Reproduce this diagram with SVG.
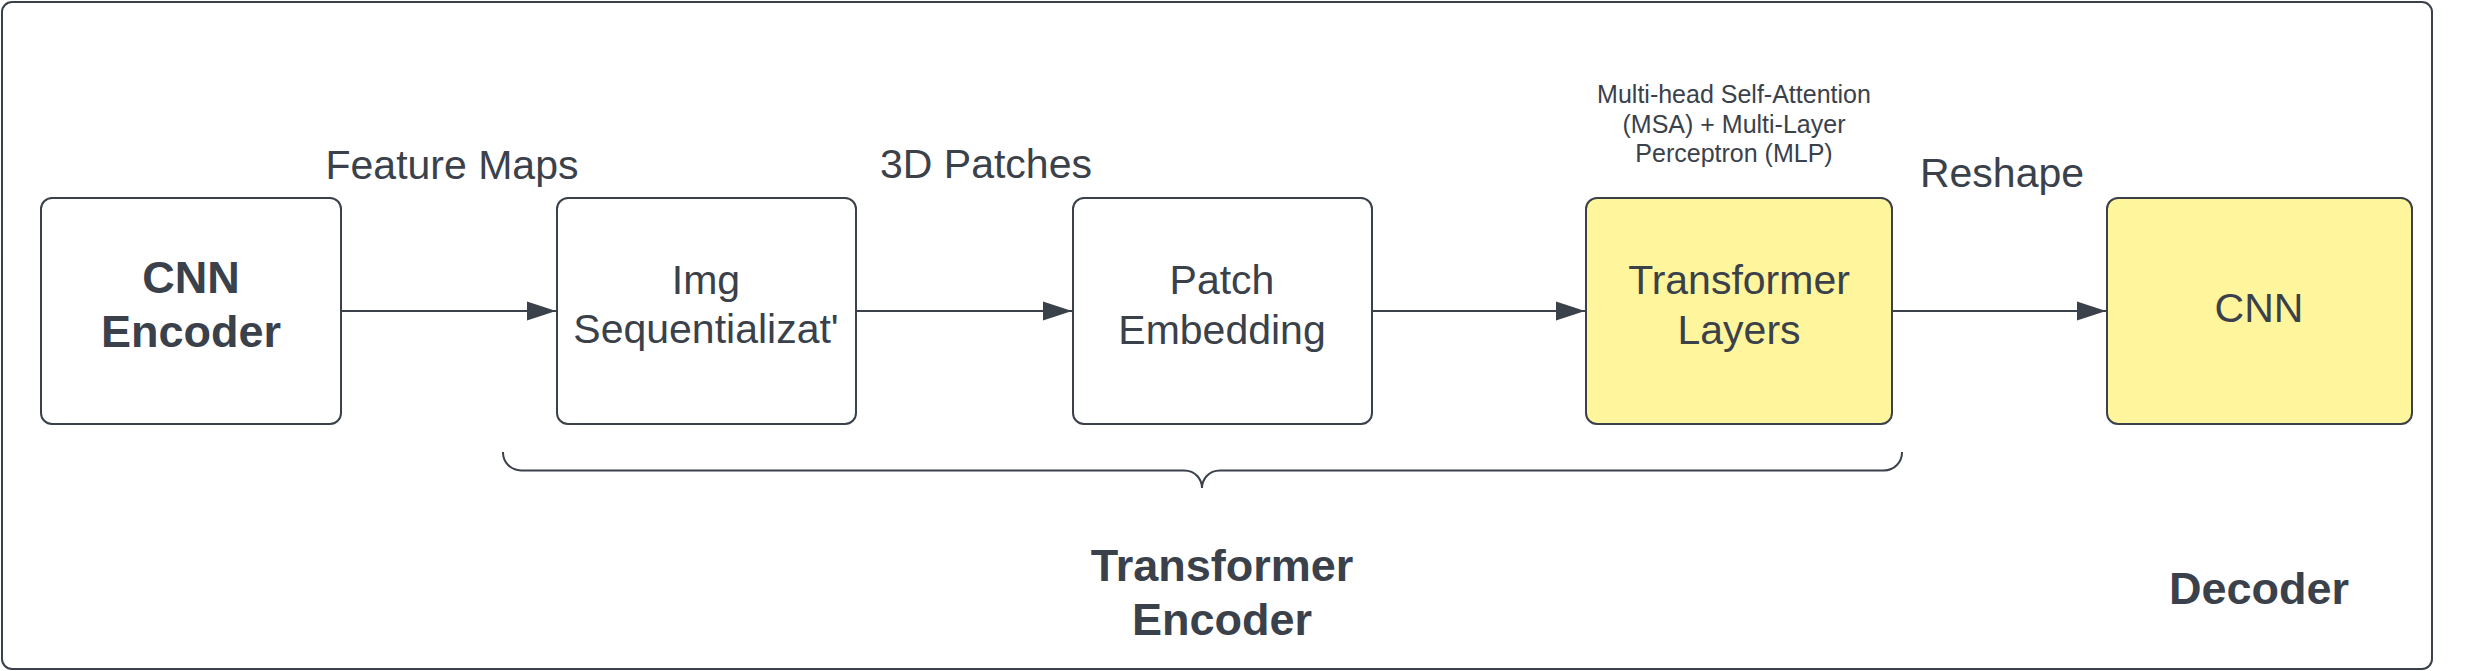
<svg xmlns="http://www.w3.org/2000/svg" width="2484" height="671" viewBox="0 0 2484 671">
<defs>
<style>
.box{fill:#ffffff;stroke:#3a414a;stroke-width:2}
.yel{fill:#fff59d;stroke:#3a414a;stroke-width:2}
.t{font-family:"Liberation Sans",Arial,sans-serif;fill:#3a414a;text-anchor:middle}
.lbl{font-size:41px}
.sm{font-size:25px}
.b{font-size:45px;font-weight:bold}
.ln{stroke:#3a414a;stroke-width:2;fill:none}
</style>
<marker id="arr" markerWidth="30" markerHeight="20" refX="29" refY="10" orient="auto" markerUnits="userSpaceOnUse">
<path d="M0,0.5 L29,10 L0,19.5 Z" fill="#3a414a"/>
</marker>
</defs>
<rect width="2484" height="671" fill="#ffffff"/>
<rect x="2" y="2" width="2430" height="667" rx="10" fill="none" stroke="#3a414a" stroke-width="2"/>

<g id="connectors">
<line class="ln" x1="342" y1="311" x2="556" y2="311" marker-end="url(#arr)"/>
<line class="ln" x1="857" y1="311" x2="1072" y2="311" marker-end="url(#arr)"/>
<line class="ln" x1="1373" y1="311" x2="1585" y2="311" marker-end="url(#arr)"/>
<line class="ln" x1="1893" y1="311" x2="2106" y2="311" marker-end="url(#arr)"/>
<text class="t lbl" x="452" y="179">Feature Maps</text>
<text class="t lbl" x="986" y="178">3D Patches</text>
<text class="t lbl" x="2002" y="187">Reshape</text>
</g>

<g id="cnn-encoder">
<rect class="box" x="41" y="198" width="300" height="226" rx="11"/>
<text class="t b" x="191" y="293">CNN</text>
<text class="t b" x="191" y="347">Encoder</text>
</g>

<g id="img-seq">
<rect class="box" x="557" y="198" width="299" height="226" rx="11"/>
<text class="t lbl" x="706" y="294">Img</text>
<text class="t lbl" x="706" y="343">Sequentializat'</text>
</g>

<g id="patch-embedding">
<rect class="box" x="1073" y="198" width="299" height="226" rx="11"/>
<text class="t lbl" x="1222" y="294">Patch</text>
<text class="t lbl" x="1222" y="344">Embedding</text>
</g>

<g id="transformer-layers">
<rect class="yel" x="1586" y="198" width="306" height="226" rx="11"/>
<text class="t lbl" x="1739" y="294">Transformer</text>
<text class="t lbl" x="1739" y="344">Layers</text>
<text class="t sm" x="1734" y="103">Multi-head Self-Attention</text>
<text class="t sm" x="1734" y="133">(MSA) + Multi-Layer</text>
<text class="t sm" x="1734" y="162">Perceptron (MLP)</text>
</g>

<g id="cnn-decoder">
<rect class="yel" x="2107" y="198" width="305" height="226" rx="11"/>
<text class="t lbl" x="2259" y="322">CNN</text>
</g>

<g id="transformer-encoder">
<path class="ln" d="M503,452 A18,18 0 0 0 521,470.5 H1184 C1196,470.5 1202,480 1202,488 C1202,480 1208,470.5 1220,470.5 H1884 A18,18 0 0 0 1902,452"/>
<text class="t b" x="1222" y="581">Transformer</text>
<text class="t b" x="1222" y="635">Encoder</text>
</g>

<g id="decoder">
<text class="t b" x="2259" y="604">Decoder</text>
</g>
</svg>
